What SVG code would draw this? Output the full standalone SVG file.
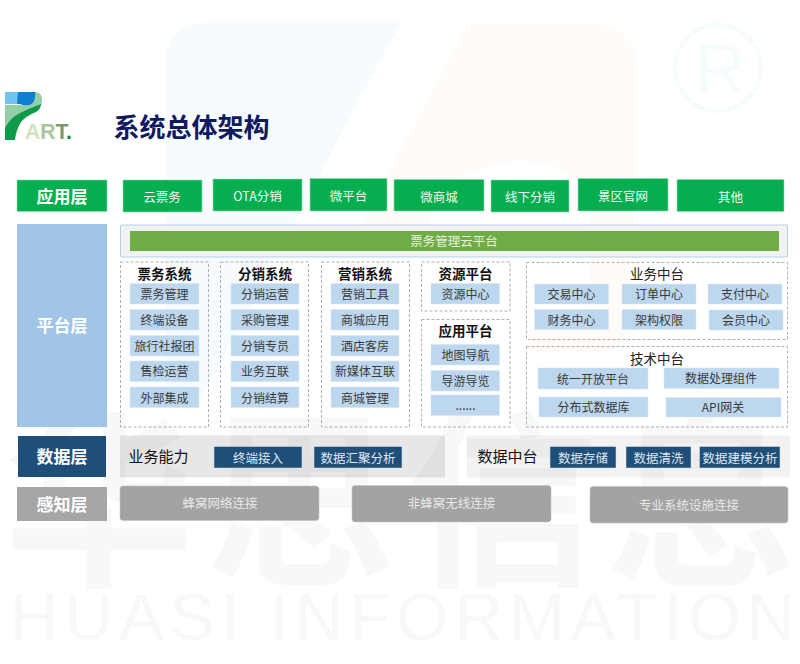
<svg xmlns="http://www.w3.org/2000/svg" width="800" height="664" viewBox="0 0 800 664">
<style>
text{font-family:"Noto Sans CJK SC","Liberation Sans",sans-serif;text-anchor:middle;dominant-baseline:central}
.lay{font-size:17px;font-weight:700;fill:#fff}
.app rect{fill:#06ae50;stroke:#8fdcb0;stroke-width:.6}
.app text{font-size:12.5px;fill:#f0faf4}
.it rect{fill:#bdd7ee;stroke:#d6e6f5;stroke-width:.5}
.it text{font-size:12px;fill:#3a3a3a}
.dash{fill:none;stroke:#9a9da3;stroke-width:.8;stroke-dasharray:3 2}
.hd{font-size:13.5px;font-weight:700;fill:#111}
.hr{font-size:13.5px;fill:#222}
.da rect{fill:#1f4e79;stroke:#dce6f0;stroke-width:.5}
.da text{font-size:12.5px;fill:#dfe8f2}
.se rect{fill:#a3a3a3;stroke:#c4c4c4;stroke-width:.6}
.se text{font-size:12.5px;fill:#e8e8e8}
.wm{fill:#f8f8f8;font-size:190px;font-weight:700}
.wl{fill:#f8f8f8;font-size:67px;font-family:"Liberation Sans",sans-serif;text-anchor:start;dominant-baseline:auto}
.mk{fill:#f6fbfd;font-size:70px;font-family:"Liberation Sans",sans-serif;dominant-baseline:auto}
</style>
<g id="watermark">
<path d="M166 63Q166 23 206 23H400L198 405H166Z" fill="#f6fbfe"/>
<path d="M469 23H587Q637 23 637 73V320Q637 352 590 352H530V330H590V190Q560 161 525 161Q480 161 430 195V255H345Z" fill="#fefbf8"/>
<circle cx="718" cy="68" r="43" fill="none" stroke="#f6fbfd" stroke-width="4"/>
<text x="720" y="93" class="mk">R</text>
<text x="99" y="488" class="wm">华</text>
<text x="300" y="488" class="wm">思</text>
<text x="502" y="488" class="wm">信</text>
<text x="702" y="488" class="wm">息</text>
<text x="10" y="640" class="wl" textLength="785" lengthAdjust="spacing">HUASI INFORMATION</text>
</g>
<g id="logo">
<path d="M33 92H36Q42 93 42 100Q42 108 37 111Q27 114 20 118Q12 124 8 133L5 135V105H20Q28 107 32 104Q36 100 33 92Z" fill="#93cfa6"/>
<path d="M5 92H22L18 104H5Z" fill="#6fc3f0"/>
<path d="M18 92H35Q36 100 32 104Q26 107 20 104H17Z" fill="#0f7fd0"/>
<path d="M5 140V128Q10 118 20 113Q30 108 41 104Q40 110 36 112Q26 116 21 122Q16 130 15 140Z" fill="#0e9a48"/>
<text x="25" y="139" font-size="22" textLength="47" lengthAdjust="spacingAndGlyphs" style="font-family:'Liberation Sans',sans-serif;font-weight:700;text-anchor:start;dominant-baseline:auto"><tspan fill="#cfe3bd">A</tspan><tspan fill="#a9c79a">R</tspan><tspan fill="#7a9a70">T</tspan><tspan fill="#0a8a4a">.</tspan></text>
</g>
<text id="title" x="191.500" y="125" font-size="26" fill="#0f1a60" style="font-weight:700">系统总体架构</text>
<g id="layer-app"><rect x="17" y="180" width="90" height="31.500" fill="#06ae50" stroke="#8fdcb0" stroke-width=".6"/><text x="62" y="195" class="lay">应用层</text></g>
<g id="layer-platform"><rect x="17" y="224" width="90" height="203" fill="#9dc3e6" fill-opacity=".96"/><text x="62" y="324.500" class="lay">平台层</text></g>
<g id="layer-data"><rect x="18" y="436" width="88" height="41" fill="#1f4e79"/><text x="62" y="455.500" class="lay">数据层</text></g>
<g id="layer-sense"><rect x="17" y="487" width="90" height="34" fill="#a6a6a6"/><text x="62" y="503" class="lay">感知层</text></g>
<g class="app">
<g id="a1"><rect x="123" y="180" width="79" height="32"/><text x="162" y="196">云票务</text></g>
<g id="a2"><rect x="213" y="179" width="89" height="32"/><text x="257.500" y="195">OTA分销</text></g>
<g id="a3"><rect x="310" y="178.500" width="77" height="32.500"/><text x="348.500" y="195">微平台</text></g>
<g id="a4"><rect x="394" y="179.500" width="90" height="31.500"/><text x="439" y="196">微商城</text></g>
<g id="a5"><rect x="491" y="180" width="78" height="32"/><text x="530" y="196">线下分销</text></g>
<g id="a6"><rect x="578" y="178.500" width="90" height="32.500"/><text x="623" y="195">景区官网</text></g>
<g id="a7"><rect x="677" y="179.500" width="107" height="32"/><text x="730.500" y="196">其他</text></g>
</g>
<g id="cloud"><rect x="120.500" y="225" width="667" height="32" rx="1" fill="#f2f2f2" stroke="#b4cfea"/><rect x="130" y="231" width="649" height="20" fill="#70ad47"/><text x="454" y="240" font-size="12.500" fill="#e6f2dc">票务管理云平台</text></g>
<g id="sys-ticket"><rect class="dash" x="120.500" y="262" width="88" height="165"/><text class="hd" x="164.500" y="273">票务系统</text>
<g class="it">
<rect x="130" y="283.500" width="69" height="20.500"/><text x="164.500" y="293">票务管理</text>
<rect x="130" y="309.500" width="69" height="20.500"/><text x="164.500" y="319">终端设备</text>
<rect x="130" y="335.500" width="69" height="20.500"/><text x="164.500" y="345">旅行社报团</text>
<rect x="130" y="361" width="69" height="20.500"/><text x="164.500" y="370.500">售检运营</text>
<rect x="130" y="387" width="69" height="20.500"/><text x="164.500" y="397">外部集成</text>
</g></g>
<g id="sys-dist"><rect class="dash" x="220.500" y="262" width="88" height="165"/><text class="hd" x="265" y="273">分销系统</text>
<g class="it">
<rect x="231" y="283.500" width="68" height="20.500"/><text x="265" y="293">分销运营</text>
<rect x="231" y="309.500" width="68" height="20.500"/><text x="265" y="319">采购管理</text>
<rect x="231" y="335.500" width="68" height="20.500"/><text x="265" y="345">分销专员</text>
<rect x="231" y="361" width="68" height="20.500"/><text x="265" y="370.500">业务互联</text>
<rect x="231" y="387" width="68" height="20.500"/><text x="265" y="397">分销结算</text>
</g></g>
<g id="sys-market"><rect class="dash" x="321.500" y="262" width="88" height="165"/><text class="hd" x="365" y="273">营销系统</text>
<g class="it">
<rect x="331" y="283.500" width="68" height="20.500"/><text x="365" y="293">营销工具</text>
<rect x="331" y="309.500" width="68" height="20.500"/><text x="365" y="319">商城应用</text>
<rect x="331" y="335.500" width="68" height="20.500"/><text x="365" y="345">酒店客房</text>
<rect x="331" y="361" width="68" height="20.500"/><text x="365" y="370.500">新媒体互联</text>
<rect x="331" y="387" width="68" height="20.500"/><text x="365" y="397">商城管理</text>
</g></g>
<g id="res"><rect class="dash" x="421.500" y="262" width="88.500" height="49"/><text class="hd" x="465.500" y="273">资源平台</text>
<g class="it"><rect x="431" y="283.500" width="68.500" height="20.500"/><text x="465.500" y="293">资源中心</text></g></g>
<g id="appplat"><rect class="dash" x="421.500" y="319.500" width="88.500" height="107.500"/><text class="hd" x="465.500" y="330">应用平台</text>
<g class="it">
<rect x="431" y="344.500" width="68.500" height="20.500"/><text x="465.500" y="354">地图导航</text>
<rect x="431" y="370.500" width="68.500" height="20.500"/><text x="465.500" y="380">导游导览</text>
<rect x="431" y="395" width="68.500" height="20.500"/><text x="465.500" y="404">......</text>
</g></g>
<g id="biz"><rect class="dash" x="526.500" y="262.500" width="261" height="77"/><text class="hr" x="657" y="273">业务中台</text>
<g class="it">
<rect x="534.500" y="284" width="74" height="20"/><text x="571.500" y="293">交易中心</text>
<rect x="622" y="284" width="74" height="20"/><text x="659" y="293">订单中心</text>
<rect x="708" y="284" width="74" height="20"/><text x="745" y="293">支付中心</text>
<rect x="534.500" y="309.500" width="74" height="20"/><text x="571.500" y="319">财务中心</text>
<rect x="622" y="309.500" width="74" height="20"/><text x="659" y="319">架构权限</text>
<rect x="709" y="310" width="74" height="20"/><text x="746" y="319">会员中心</text>
</g></g>
<g id="tech"><rect class="dash" x="526.500" y="346.500" width="261" height="80.500"/><text class="hr" x="657" y="358">技术中台</text>
<g class="it">
<rect x="538" y="368" width="110" height="21"/><text x="593" y="378">统一开放平台</text>
<rect x="664" y="368" width="115" height="20.500"/><text x="721" y="377.500">数据处理组件</text>
<rect x="539" y="397" width="109" height="20"/><text x="593.500" y="406">分布式数据库</text>
<rect x="666" y="397.500" width="115" height="19.500"/><text x="723" y="406">API网关</text>
</g></g>
<g id="bizcap"><rect x="120" y="435.500" width="325" height="42" fill="#000" fill-opacity=".094"/><text x="158.500" y="455" font-size="15" fill="#111">业务能力</text>
<g class="da">
<rect x="214" y="446.500" width="88" height="21.500"/><text x="258" y="457">终端接入</text>
<rect x="314" y="446.500" width="88" height="21.500"/><text x="358" y="457">数据汇聚分析</text>
</g></g>
<g id="datamid"><rect x="467" y="435.500" width="323" height="42" fill="#000" fill-opacity=".05"/><text x="507.500" y="455" font-size="15" fill="#111">数据中台</text>
<g class="da">
<rect x="550" y="446.500" width="66" height="21.500"/><text x="583" y="457">数据存储</text>
<rect x="626" y="446.500" width="65" height="21.500"/><text x="658.500" y="457">数据清洗</text>
<rect x="699.500" y="446.500" width="80.500" height="21.500"/><text x="740" y="457">数据建模分析</text>
</g></g>
<g class="se">
<g id="s1"><rect x="120" y="486" width="199" height="34.500" rx="3"/><text x="220" y="502">蜂窝网络连接</text></g>
<g id="s2"><rect x="352" y="485.500" width="199" height="36.500" rx="3"/><text x="451.500" y="502.500">非蜂窝无线连接</text></g>
<g id="s3"><rect x="590" y="486.500" width="198" height="36.500" rx="3"/><text x="689" y="504">专业系统设施连接</text></g>
</g>
<g id="connectors"/>
</svg>
